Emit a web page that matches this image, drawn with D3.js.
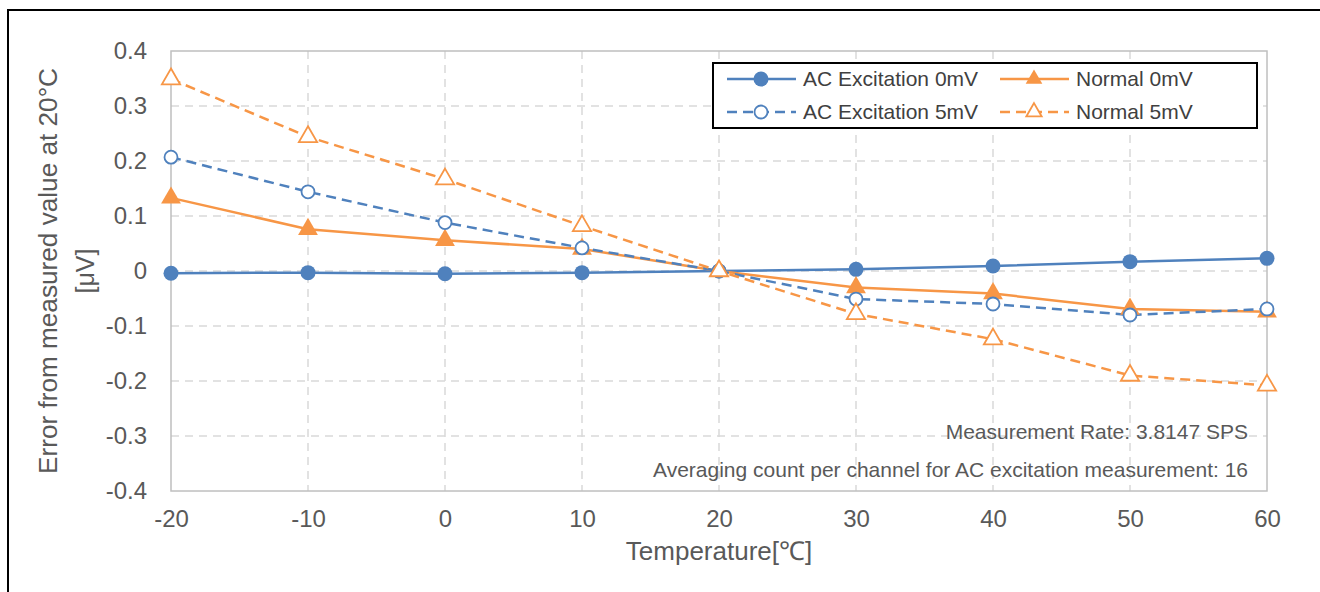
<!DOCTYPE html>
<html>
<head>
<meta charset="utf-8">
<script src="https://cdn.jsdelivr.net/npm/d3@7"></script>
<style>
  body { margin: 0; background: #fff; }
  svg { display: block; font-family: "Liberation Sans", Arial, sans-serif; }
  .tick text { fill: #595959; }
</style>
</head>
<body>
<div id="chart"></div>
<script>
const temps = [-20, -10, 0, 10, 20, 30, 40, 50, 60];
const yTicks = [-0.4, -0.3, -0.2, -0.1, 0, 0.1, 0.2, 0.3, 0.4];

const acExc0mV  = [-0.004, -0.003, -0.005, -0.003, 0, 0.003, 0.009, 0.017, 0.023];
const normal0mV = [0.133, 0.076, 0.056, 0.040, 0, -0.030, -0.041, -0.069, -0.074];
const acExc5mV  = [0.207, 0.144, 0.088, 0.042, 0, -0.051, -0.060, -0.080, -0.069];
const normal5mV = [0.349, 0.244, 0.167, 0.082, 0, -0.078, -0.124, -0.190, -0.208];

const seriesNames = ["AC Excitation 0mV", "Normal 0mV", "AC Excitation 5mV", "Normal 5mV"];
const notes = [
  "Measurement Rate: 3.8147 SPS",
  "Averaging count per channel for AC excitation measurement: 16"
];

const blue = "#4f81bd";
const orange = "#f79646";

function drawChart() {
  const width = 1320;
  const height = 592;
  const margin = { top: 51, right: 53, bottom: 101, left: 171 };
  const innerW = width - margin.left - margin.right;
  const innerH = height - margin.top - margin.bottom;

  const series = [
    { name: seriesNames[0], values: acExc0mV, color: blue, dash: null, shape: "circle", filled: true },
    { name: seriesNames[1], values: normal0mV, color: orange, dash: null, shape: "triangle", filled: true },
    { name: seriesNames[2], values: acExc5mV, color: blue, dash: "10,6", shape: "circle", filled: false },
    { name: seriesNames[3], values: normal5mV, color: orange, dash: "10,6", shape: "triangle", filled: false }
  ];

  const svg = d3.select("#chart")
    .append("svg")
    .attr("width", width)
    .attr("height", height);

  // outer frame (bottom and right run off the picture)
  svg.append("path")
    .attr("d", `M8,${height + 5}V10H${width + 5}`)
    .attr("fill", "none")
    .attr("stroke", "#000")
    .attr("stroke-width", 2);

  const g = svg.append("g")
    .attr("transform", `translate(${margin.left},${margin.top})`);

  const x = d3.scaleLinear().domain([-20, 60]).range([0, innerW]);
  const y = d3.scaleLinear().domain([-0.4, 0.4]).range([innerH, 0]);

  // gridlines
  g.append("g")
    .selectAll("line")
    .data(yTicks.slice(1, -1))
    .join("line")
    .attr("x1", 0).attr("x2", innerW)
    .attr("y1", d => y(d)).attr("y2", d => y(d))
    .attr("stroke", "#d9d9d9")
    .attr("stroke-width", 1.5)
    .attr("stroke-dasharray", "8,6");

  g.append("g")
    .selectAll("line")
    .data(temps.slice(1, -1))
    .join("line")
    .attr("x1", d => x(d)).attr("x2", d => x(d))
    .attr("y1", 0).attr("y2", innerH)
    .attr("stroke", "#d9d9d9")
    .attr("stroke-width", 1.5)
    .attr("stroke-dasharray", "8,6");

  // plot area border
  g.append("rect")
    .attr("width", innerW)
    .attr("height", innerH)
    .attr("fill", "none")
    .attr("stroke", "#bfbfbf")
    .attr("stroke-width", 1.5);

  // axes
  const xAxis = g.append("g")
    .attr("transform", `translate(0,${innerH})`)
    .call(d3.axisBottom(x).tickValues(temps).tickSize(0).tickPadding(19)
      .tickFormat(d => String(d)));
  xAxis.select(".domain").remove();
  xAxis.selectAll("text").attr("font-size", 24).attr("font-family", null);

  const yAxis = g.append("g")
    .call(d3.axisLeft(y).tickValues(yTicks).tickSize(0).tickPadding(24)
      .tickFormat(d => d === 0 ? "0" : d.toFixed(1)));
  yAxis.select(".domain").remove();
  yAxis.selectAll("text").attr("font-size", 24).attr("font-family", null);

  // axis titles
  svg.append("text")
    .attr("x", margin.left + x(20))
    .attr("y", 560)
    .attr("text-anchor", "middle")
    .attr("font-size", 26)
    .attr("fill", "#595959")
    .text("Temperature[℃]");

  const yTitle = svg.append("text")
    .attr("transform", `translate(57,${margin.top + y(0)}) rotate(-90)`)
    .attr("text-anchor", "middle")
    .attr("font-size", 25)
    .attr("fill", "#595959");
  yTitle.append("tspan").attr("x", 0).attr("dy", 0)
    .attr("textLength", 406).attr("lengthAdjust", "spacingAndGlyphs")
    .text("Error from measured value at 20°C");
  yTitle.append("tspan").attr("x", 0).attr("dy", 37).text("[μV]");

  // lines
  const line = d3.line()
    .x((d, i) => x(temps[i]))
    .y(d => y(d));

  const triangle = d3.symbol().type(d3.symbolTriangle);

  function drawMarker(sel, s, size) {
    if (s.shape === "circle") {
      sel.append("circle")
        .attr("r", s.filled ? 7.5 : 6.5)
        .attr("fill", s.filled ? s.color : "#fff")
        .attr("stroke", s.color)
        .attr("stroke-width", s.filled ? 0 : 1.8);
    } else {
      sel.append("path")
        .attr("d", triangle.size(s.filled ? size : size * 0.85)())
        .attr("fill", s.filled ? s.color : "#fff")
        .attr("stroke", s.color)
        .attr("stroke-width", s.filled ? 0 : 1.8);
    }
  }

  series.forEach(s => {
    g.append("path")
      .datum(s.values)
      .attr("d", line)
      .attr("fill", "none")
      .attr("stroke", s.color)
      .attr("stroke-width", 2.5)
      .attr("stroke-dasharray", s.dash);
  });

  series.forEach(s => {
    g.append("g")
      .selectAll("g")
      .data(s.values)
      .join("g")
      .attr("transform", (d, i) => `translate(${x(temps[i])},${y(d)})`)
      .each(function () { drawMarker(d3.select(this), s, 170); });
  });

  // notes
  notes.forEach((t, i) => {
    svg.append("text")
      .attr("x", 1248)
      .attr("y", 439 + i * 38)
      .attr("text-anchor", "end")
      .attr("font-size", 21)
      .attr("fill", "#595959")
      .text(t);
  });

  // legend
  const legend = svg.append("g").attr("transform", "translate(713,63)");
  legend.append("rect")
    .attr("width", 544)
    .attr("height", 65)
    .attr("fill", "#fff")
    .attr("stroke", "#000")
    .attr("stroke-width", 2);

  const cols = [14, 287];
  series.forEach((s, i) => {
    const item = legend.append("g")
      .attr("transform", `translate(${cols[i % 2]},${i < 2 ? 16 : 49})`);
    item.append("line")
      .attr("x1", 0).attr("x2", 69)
      .attr("stroke", s.color)
      .attr("stroke-width", 2.5)
      .attr("stroke-dasharray", s.dash);
    drawMarker(item.append("g").attr("transform", "translate(34,0)"), s, 120);
    item.append("text")
      .attr("x", 76)
      .attr("y", 7)
      .attr("font-size", 21)
      .attr("fill", "#404040")
      .text(s.name);
  });
}

document.addEventListener("DOMContentLoaded", drawChart);
</script>
</body>
</html>
